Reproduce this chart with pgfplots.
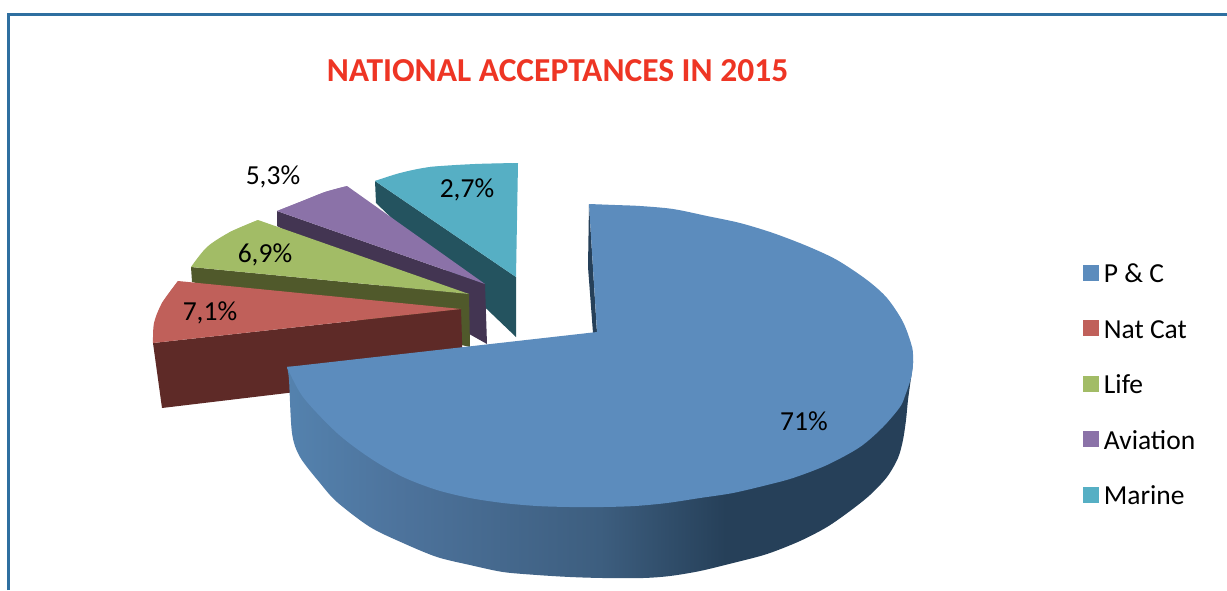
\documentclass[border=0pt]{standalone}
\usepackage{fontspec}
\setmainfont{Carlito}
\usepackage{pgfplots}
\pgfplotsset{compat=1.18}
\definecolor{frame}{HTML}{2F6FA0}
\definecolor{ctitle}{HTML}{EE3524}
\definecolor{pctop}{HTML}{5C8CBD}
\definecolor{pcside}{HTML}{264059}
\definecolor{nctop}{HTML}{C0605A}
\definecolor{ncside}{HTML}{5E2A27}
\definecolor{lifetop}{HTML}{A2BC66}
\definecolor{lifeside}{HTML}{50592B}
\definecolor{avtop}{HTML}{8B72A8}
\definecolor{avside}{HTML}{433552}
\definecolor{matop}{HTML}{56AFC4}
\definecolor{maside}{HTML}{24535F}
\definecolor{pcg1}{HTML}{5482AE}
\definecolor{pcg2}{HTML}{4D739C}
\definecolor{pcg3}{HTML}{3D5E7F}
\definecolor{pcg4}{HTML}{264059}
\pgfdeclarehorizontalshading{pieside}{100bp}{
 color(0bp)=(pcg1); color(25bp)=(pcg1); color(34bp)=(pcg2); color(50bp)=(pcg3); color(60bp)=(pcg4); color(75bp)=(pcg4); color(100bp)=(pcg4)}
\begin{document}
\begin{tikzpicture}
\begin{axis}[
  hide axis, scale only axis, width=1227pt, height=590pt,
  xmin=0, xmax=1227, ymin=0, ymax=590, y dir=reverse,
  clip=true,
  legend style={at={(axis cs:1083,264.5)}, anchor=north west, draw=none, fill=none, inner sep=0pt, outer sep=0pt,
    font=\fontsize{27.5}{27.5}\selectfont, row sep=32.3pt, nodes={inner sep=0pt, outer sep=0pt, text height=16pt, text depth=5pt}},
  legend cell align=left,
  legend image code/.code={\fill[#1] (0pt,-2.5pt) rectangle (14.5pt,12.5pt);\path (20.5pt,0pt);},
]
\addlegendimage{pctop}\addlegendentry{P \& C}
\addlegendimage{nctop}\addlegendentry{Nat Cat}
\addlegendimage{lifetop}\addlegendentry{Life}
\addlegendimage{avtop}\addlegendentry{Aviation}
\addlegendimage{matop}\addlegendentry{Marine}

\addplot[forget plot, draw=none, fill=white] coordinates {(0,0)(1227,0)(1227,590)(0,590)} --cycle;
\addplot[forget plot, draw=frame, line width=3pt] coordinates {(8.5,590)(8.5,14)(1227,14)};

% Marine
\addplot[forget plot, draw=none, fill=maside] coordinates {(375,181)(516,277)(516,337)(376,203)} --cycle;
\addplot[forget plot, draw=none, fill=matop] coordinates {(375,181)(430,167)(518,163)(516,277)} --cycle;
\addplot[forget plot, smooth, draw=none, fill=matop] coordinates {(375,181)(400,173)(430,167)(475,164)(518,163)} --cycle;
% Aviation
\addplot[forget plot, draw=none, fill=avside] coordinates {(277,211)(485,284)(487,344)(277,226)} --cycle;
\addplot[forget plot, draw=none, fill=avtop] coordinates {(277,211)(325,192)(347,186)(485,284)} --cycle;
\addplot[forget plot, smooth, draw=none, fill=avtop] coordinates {(277,211)(300,202)(325,192)(347,186)} --cycle;
% Life
\addplot[forget plot, draw=none, fill=lifeside] coordinates {(191,267)(469,294)(470,347)(192,282)} --cycle;
\addplot[forget plot, draw=none, fill=lifetop] coordinates {(191,267)(230,232)(258,220)(469,294)} --cycle;
\addplot[forget plot, smooth, draw=none, fill=lifetop] coordinates {(191,267)(207,247)(230,232)(258,220)} --cycle;
% Nat Cat
\addplot[forget plot, draw=none, fill=ncside] coordinates {(153,343)(461,309)(463,372)(162,408)} --cycle;
\addplot[forget plot, draw=none, fill=nctop] coordinates {(153,343)(162,303)(178,281)(461,309)} --cycle;
\addplot[forget plot, smooth, draw=none, fill=nctop] coordinates {(153,343)(154,323)(162,303)(178,281)} --cycle;
% P & C
\addplot[forget plot, draw=none, fill=pcside] coordinates {(589,204)(588,267)(593,333)(597,333)} --cycle;
\addplot[forget plot, smooth, draw=none, shade, shading=pieside] coordinates {(287,367)(289,380)(292,433)(300,457)(320,483)(337,502)(370,527)(403,543)(437,557)(470,565)(503,572)(537,575)(570,577)(603,578)(643,578)(670,576)(700,571)(733,563)(767,554)(800,541)(827,527)(850,511)(870,495)(887,477)(898,458)(903,440)(906,420)(908,400)(911,378)(913,363)} --cycle;
\addplot[forget plot, draw=none, fill=pctop] coordinates {(597,332)(589,204)(912,347)(603,507)(287,367)} --cycle;
\addplot[forget plot, smooth, draw=none, fill=pctop] coordinates {(589,204)(615,205)(640,206)(673,209)(707,216)(740,223)(773,233)(807,246)(837,260)(867,280)(887,298)(903,322)(912,347)(913,363)(911,378)} --cycle;
\addplot[forget plot, smooth, draw=none, fill=pctop] coordinates {(912,347)(913,363)(911,378)(905,396)(900,407)(883,427)(860,447)(827,465)(793,478)(767,485)(733,493)(700,498)(667,503)(635,506)(603,507)(570,507)(537,506)(503,503)(470,498)(437,490)(403,477)(370,458)(337,433)(303,397)(287,367)} --cycle;

\node[text=ctitle, font=\fontsize{33.5}{33.5}\selectfont\bfseries] at (axis cs:557.5,71) {NATIONAL ACCEPTANCES IN 2015};
\node[font=\fontsize{27.5}{27.5}\selectfont] at (axis cs:804,421) {71\%};
\node[font=\fontsize{27.5}{27.5}\selectfont] at (axis cs:210,313) {7,1\%};
\node[font=\fontsize{27.5}{27.5}\selectfont] at (axis cs:265,255) {6,9\%};
\node[font=\fontsize{27.5}{27.5}\selectfont] at (axis cs:273,177) {5,3\%};
\node[font=\fontsize{27.5}{27.5}\selectfont] at (axis cs:467,190) {2,7\%};
\end{axis}
\end{tikzpicture}
\end{document}
